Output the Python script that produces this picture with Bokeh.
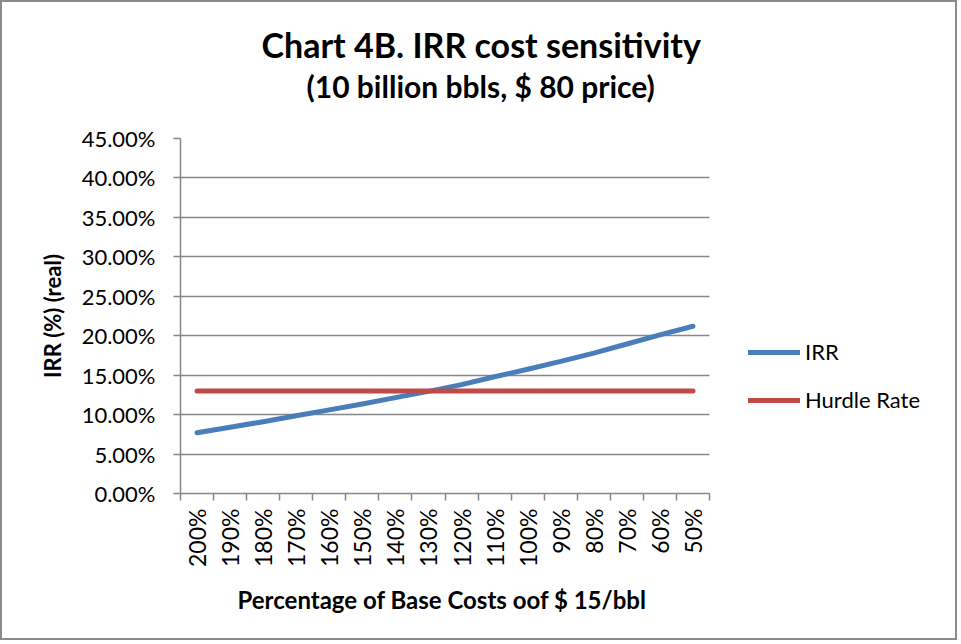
import math
from bokeh.plotting import figure
from bokeh.models import (Range1d, FixedTicker, PrintfTickFormatter, Legend, LegendItem, Title, Grid)
from bokeh.embed import file_html
from bokeh.resources import INLINE

categories = ["200%", "190%", "180%", "170%", "160%", "150%", "140%", "130%",
              "120%", "110%", "100%", "90%", "80%", "70%", "60%", "50%"]
irr = [7.7, 8.4, 9.1, 9.85, 10.6, 11.35, 12.15, 12.95,
       13.8, 14.8, 15.75, 16.75, 17.8, 18.95, 20.1, 21.2]
hurdle = [13.0] * 16
y_ticks = [0, 5, 10, 15, 20, 25, 30, 35, 40, 45]

title_text = "Chart 4B. IRR cost sensitivity"
subtitle_text = "(10 billion bbls, $ 80 price)"
x_label = "Percentage of Base Costs oof $ 15/bbl"
y_label = "IRR (%) (real)"

FONT = "Lato"
GRID = "#878787"
BLUE = "#4A7EBB"
RED = "#BE4B48"

# layout constants (pixels)
W, H = 957, 640
LEFT, RIGHT, TOP, BOTTOM = 178, 2, 136, 149
PLOT_W = 529                      # width of the category area
n = len(categories)
px_per_cat = PLOT_W / n
frame_w = W - LEFT - RIGHT
x_end = -0.5 + frame_w / px_per_cat

x = list(range(n))

p = figure(width=W, height=H, output_backend="svg", toolbar_location=None,
           x_range=Range1d(-0.5, x_end), y_range=Range1d(0, 45),
           min_border_left=LEFT, min_border_right=RIGHT, min_border_top=TOP,
           min_border_bottom=BOTTOM, title=None)
p.styles = {"border": "2px solid #8a8a8a"}
p.outline_line_color = None
p.background_fill_color = "white"
p.border_fill_color = "white"

# titles (first added sits closest to the frame); left-aligned with offsets
spacer = Title(text=".", text_color="white", text_font_size="2px", standoff=32)
p.add_layout(spacer, "above")
sub = Title(text=subtitle_text, align="left", offset=126, text_font=FONT,
            text_font_size="30px", text_font_style="bold", text_color="black", standoff=0)
p.add_layout(sub, "above")
main = Title(text=title_text, align="left", offset=81, text_font=FONT,
             text_font_size="34px", text_font_style="bold", text_color="black", standoff=1)
p.add_layout(main, "above")

# grid
p.xgrid.grid_line_color = None
yg = p.ygrid[0]
yg.ticker = FixedTicker(ticks=y_ticks)
if "cross_bounds" in Grid.properties():
    yg.cross_bounds = (-0.5, n - 0.5)
    yg.grid_line_color = GRID
    yg.grid_line_width = 1.5
else:
    yg.grid_line_color = None
    p.segment(x0=[-0.5] * len(y_ticks), x1=[n - 0.5] * len(y_ticks), y0=y_ticks, y1=y_ticks,
              line_color=GRID, line_width=1.5)

# y axis
ya = p.yaxis[0]
ya.ticker = FixedTicker(ticks=y_ticks)
ya.formatter = PrintfTickFormatter(format="%.2f%%")
ya.axis_line_color = GRID
ya.axis_line_width = 1.5
ya.major_tick_line_color = GRID
ya.major_tick_line_width = 1.5
ya.major_tick_in = 0
ya.major_tick_out = 7
ya.minor_tick_line_color = None
ya.major_label_standoff = 18
ya.major_label_text_font = FONT
ya.major_label_text_font_size = "22px"
ya.major_label_text_color = "black"
ya.axis_label = y_label
ya.axis_label_text_font = FONT
ya.axis_label_text_font_size = "22px"
ya.axis_label_text_font_style = "bold"
ya.axis_label_text_color = "black"
ya.axis_label_standoff = 13

# x axis
xa = p.xaxis[0]
xa.bounds = (-0.5, n - 0.5)
xa.ticker = FixedTicker(ticks=x, minor_ticks=[i - 0.5 for i in range(n + 1)])
xa.major_label_overrides = {i: c for i, c in zip(x, categories)}
xa.major_label_orientation = math.pi / 2
xa.axis_line_color = GRID
xa.axis_line_width = 1.5
xa.major_tick_line_color = None
xa.major_tick_in = 0
xa.major_tick_out = 0
xa.minor_tick_line_color = GRID
xa.minor_tick_line_width = 1.5
xa.minor_tick_in = 0
xa.minor_tick_out = 7
xa.major_label_standoff = 8
xa.major_label_text_font = FONT
xa.major_label_text_font_size = "23px"
xa.major_label_text_color = "black"

# x axis title, placed below the axis and centred on the category area
xt = Title(text=x_label, align="left", vertical_align="top", offset=57, text_font=FONT,
           text_font_size="24px", text_font_style="bold", text_color="black", standoff=31)
p.add_layout(xt, "below")

r_irr = p.line(x, irr, line_color=BLUE, line_width=5, line_cap="round", line_join="round")
r_h = p.line(x, hurdle, line_color=RED, line_width=5, line_cap="round", line_join="round")

legend = Legend(items=[LegendItem(label="IRR", renderers=[r_irr]),
                       LegendItem(label="Hurdle Rate", renderers=[r_h])],
                location=(568, 80), padding=0, margin=0, spacing=21,
                glyph_width=52, glyph_height=22, label_height=22, label_standoff=5,
                label_text_font=FONT, label_text_font_size="22px", label_text_color="black",
                border_line_color=None, background_fill_alpha=0)
p.add_layout(legend, "center")

open("out.html", "w").write(file_html(p, INLINE))
